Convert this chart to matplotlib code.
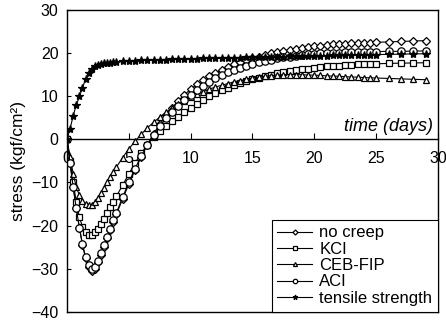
import matplotlib
matplotlib.use("Agg")
import matplotlib.pyplot as plt

plt.rcParams['font.family'] = ['Liberation Sans', 'DejaVu Sans']

days = [0, 0.25, 0.5, 0.75, 1, 1.25, 1.5, 1.75, 2, 2.25, 2.5, 2.75, 3, 3.25, 3.5, 3.75,
        4, 4.5, 5, 5.5, 6, 6.5, 7, 7.5, 8, 8.5, 9, 9.5, 10, 10.5, 11, 11.5, 12, 12.5,
        13, 13.5, 14, 14.5, 15, 15.5, 16, 16.5, 17, 17.5, 18, 18.5, 19, 19.5, 20, 20.5,
        21, 21.5, 22, 22.5, 23, 23.5, 24, 24.5, 25, 26, 27, 28, 29]

no_creep = [0, -5.5, -11, -16, -20.5, -24.5, -27.6, -29.6, -30.5, -30.0, -28.6, -26.8, -24.9, -23.0, -21.1, -19.2,
            -17.4, -13.8, -10.4, -7.1, -4.0, -1.2, 1.3, 3.6, 5.6, 7.4, 9.0, 10.4, 11.7, 12.8, 13.8, 14.7, 15.5, 16.2,
            16.9, 17.5, 18.0, 18.5, 18.9, 19.3, 19.7, 20.0, 20.3, 20.6, 20.85, 21.1, 21.3, 21.5, 21.7, 21.85,
            22.0, 22.1, 22.2, 22.3, 22.4, 22.45, 22.5, 22.55, 22.6, 22.7, 22.8, 22.9, 23.0]

kci = [0, -5, -10, -14.5, -18, -20.3, -21.6, -22.2, -22.2, -21.6, -20.7, -19.6, -18.4, -17.1, -15.8, -14.5,
       -13.2, -10.6, -8.0, -5.5, -3.2, -1.2, 0.5, 1.9, 3.1, 4.2, 5.3, 6.3, 7.3, 8.3, 9.2, 10.0, 10.8, 11.4,
       12.0, 12.6, 13.1, 13.6, 14.0, 14.4, 14.8, 15.1, 15.4, 15.7, 15.9, 16.1, 16.3, 16.5, 16.7, 16.85,
       17.0, 17.1, 17.2, 17.3, 17.4, 17.45, 17.5, 17.55, 17.6, 17.7, 17.75, 17.8, 17.85]

ceb_fip = [0, -4, -8, -11, -13, -14.3, -15.0, -15.3, -15.2, -14.5, -13.5, -12.4, -11.2, -10.0, -8.8, -7.6,
           -6.4, -4.2, -2.2, -0.4, 1.2, 2.7, 4.0, 5.2, 6.3, 7.3, 8.2, 9.0, 9.8, 10.5, 11.1, 11.7, 12.2, 12.6,
           13.0, 13.4, 13.7, 14.0, 14.3, 14.5, 14.7, 14.85, 15.0, 15.05, 15.1, 15.1, 15.05, 15.0, 14.95, 14.9,
           14.8, 14.75, 14.7, 14.6, 14.55, 14.5, 14.4, 14.35, 14.3, 14.2, 14.1, 14.0, 13.9]

aci = [0, -5.5, -11, -16, -20.5, -24.3, -27.3, -29.2, -30.1, -29.6, -28.2, -26.4, -24.5, -22.6, -20.7, -18.8,
       -17.0, -13.4, -10.0, -6.8, -3.9, -1.3, 1.0, 3.1, 4.9, 6.5, 7.9, 9.2, 10.4, 11.5, 12.5, 13.4, 14.2, 14.9,
       15.6, 16.2, 16.7, 17.2, 17.6, 18.0, 18.3, 18.6, 18.9, 19.1, 19.3, 19.5, 19.65, 19.8, 19.9, 20.0,
       20.1, 20.15, 20.2, 20.25, 20.3, 20.35, 20.4, 20.42, 20.45, 20.5, 20.5, 20.55, 20.6]

tensile = [0, 2.5, 5.5, 8, 10, 12, 14, 15.5, 16.5, 17, 17.3, 17.5, 17.7, 17.8, 17.9, 18.0,
           18.05, 18.15, 18.25, 18.3, 18.4, 18.45, 18.5, 18.55, 18.6, 18.65, 18.7, 18.72, 18.75, 18.8, 18.85, 18.88, 18.9, 18.95,
           19.0, 19.02, 19.05, 19.1, 19.12, 19.15, 19.2, 19.22, 19.25, 19.3, 19.32, 19.35, 19.4, 19.42, 19.45, 19.5,
           19.52, 19.55, 19.6, 19.62, 19.65, 19.68, 19.7, 19.72, 19.75, 19.8, 19.85, 19.9, 19.95]

labels = ["no creep", "KCI", "CEB-FIP", "ACI", "tensile strength"]
x_ticks = [0, 5, 10, 15, 20, 25, 30]
y_ticks = [-40, -30, -20, -10, 0, 10, 20, 30]

fig = plt.figure(figsize=(4.46, 3.23), dpi=100)
ax = fig.add_axes([0.1502, 0.0356, 0.8318, 0.9319])

series = [no_creep, kci, ceb_fip, aci, tensile]
markers = ['D', 's', '^', 'o', '*']
msizes = [4.2, 4.8, 4.8, 5.3, 6.0]
for vals, lab, mk, ms in zip(series, labels, markers, msizes):
    face = 'black' if mk == '*' else 'white'
    ax.plot(days, vals, color='black', lw=0.8, marker=mk, markersize=ms,
            markerfacecolor=face, markeredgecolor='black', markeredgewidth=0.9,
            label=lab)

ax.set_xlim(0, 30)
ax.set_ylim(-40, 30)
ax.set_xticks(x_ticks)
ax.set_yticks(y_ticks)

ax.spines['bottom'].set_position(('data', 0))
for s in ax.spines.values():
    s.set_linewidth(1.0)
ax.plot([0, 1], [0, 0], transform=ax.transAxes, color='black', lw=1.0, clip_on=False)

ax.tick_params(axis='x', direction='in', length=4, width=0.8, pad=8, labelsize=11.5)
ax.tick_params(axis='y', direction='in', length=3, width=0.8, pad=6, labelsize=11.5)

ax.set_ylabel('stress (kgf/cm²)', fontsize=12.5, labelpad=4)
ax.text(29.6, 1.0, 'time (days)', ha='right', va='bottom', fontsize=13, style='italic')

handles, labs = ax.get_legend_handles_labels()
leg = ax.legend(handles, labs, loc='lower right', borderaxespad=0, fontsize=12,
                frameon=True, fancybox=False, edgecolor='black', framealpha=1,
                handlelength=2.1, handletextpad=0.4, labelspacing=0.08, borderpad=0.35,
                markerscale=0.6)
leg.get_frame().set_linewidth(0.8)

fig.savefig('out.png', dpi=100)
